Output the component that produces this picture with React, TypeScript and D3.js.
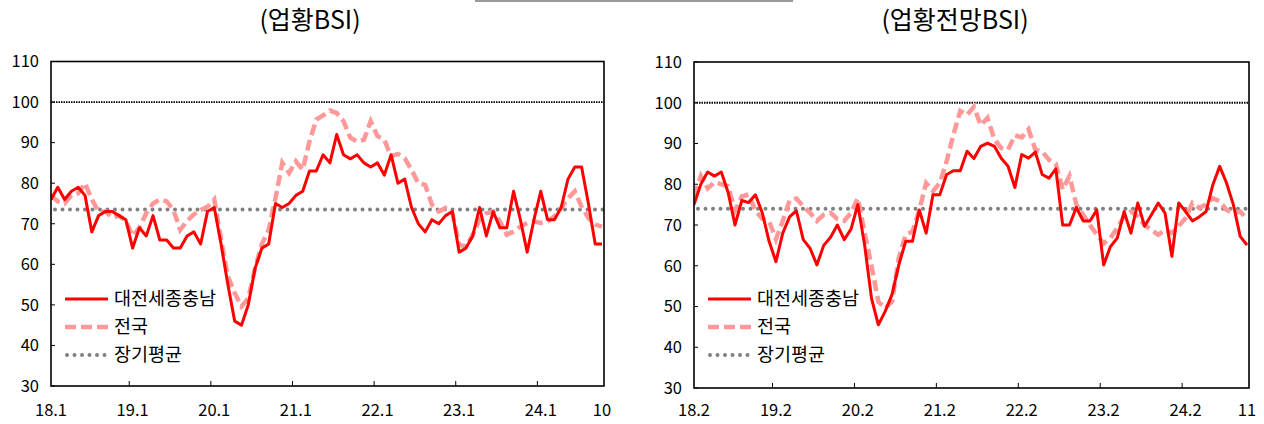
import React from "react";
import * as d3 from "d3";

// month keys like "18.1" ... built from a start month and a count
const monthsFrom = (year: number, month: number, count: number) => {
  const out: string[] = [];
  let y = year;
  let m = month;
  for (let k = 0; k < count; k++) {
    out.push(`${y % 100}.${m}`);
    m += 1;
    if (m > 12) {
      m = 1;
      y += 1;
    }
  }
  return out;
};

// 업황BSI : 18.1 ~ 24.10
const bsiMonths = monthsFrom(2018, 1, 82);
const bsiTicks = ["18.1", "19.1", "20.1", "21.1", "22.1", "23.1", "24.1", "24.10"];
const bsiTickText = ["18.1", "19.1", "20.1", "21.1", "22.1", "23.1", "24.1", "10"];
const bsiLocal = [
  76, 79, 76, 78, 79, 77, 68, 72, 73, 73, 72, 71,
  64, 69, 67, 72, 66, 66, 64, 64, 67, 68, 65, 73,
  74, 65, 55, 46, 45, 50, 59, 64, 65, 75, 74, 75,
  77, 78, 83, 83, 87, 85, 92, 87, 86, 87, 85, 84,
  85, 82, 87, 80, 81, 74, 70, 68, 71, 70, 72, 73,
  63, 64, 67, 74, 67, 73, 69, 69, 78, 71, 63, 71,
  78, 71, 71, 74, 81, 84, 84, 75, 65, 65,
];
const bsiNation = [
  77, 75.5, 75, 77, 77.5, 80, 76, 73, 73, 71.5, 72, 70.7,
  67, 69, 72.6, 75, 76, 75.5, 73.4, 68.5, 70.7, 72.3, 73.4, 74.2,
  76, 66, 57, 53, 49.6, 51.6, 59, 65, 68.5, 76.3, 85, 82.5,
  85.4, 83.3, 90.3, 95.7, 96.7, 97.9, 97.3, 95.3, 91.2, 90.3, 90.7, 95.3,
  91.6, 90.7, 86.6, 87.2, 86.1, 83.3, 80, 79.6, 74.7, 73, 73.9, 72.6,
  64.8, 64.4, 67.3, 71, 72.6, 73, 70.6, 67.3, 68.1, 69.3, 70.2, 70.6,
  70.2, 70.6, 71.8, 73.9, 76.3, 78, 74.2, 71.4, 69.8, 69.3,
];
const bsiAvg = 73.5;

// 업황전망BSI : 18.2 ~ 24.11
const outMonths = monthsFrom(2018, 2, 82);
const outTicks = ["18.2", "19.2", "20.2", "21.2", "22.2", "23.2", "24.2", "24.11"];
const outTickText = ["18.2", "19.2", "20.2", "21.2", "22.2", "23.2", "24.2", "11"];
const outLocal = [
  75, 80, 83, 82, 83, 78, 70, 76, 75.5, 77.4, 73, 66,
  61, 68, 72, 73.5, 66.4, 64.3, 60.2, 65, 67, 70, 66.4, 69,
  75, 65, 52, 45.5, 48.8, 52.9, 60.2, 66, 66, 73.7, 68, 77.4,
  77.4, 82.4, 83.3, 83.3, 88.1, 86.3, 89.3, 90.1, 89.3, 86.4, 84.4, 79.2,
  87.3, 86.4, 87.9, 82.4, 81.5, 83.8, 70, 70, 74.3, 71, 71, 73.7,
  60.2, 64.7, 66.8, 73.3, 68, 75.4, 69.7, 72.5, 75.4, 72.9, 62.3, 75.4,
  73.3, 71, 72, 73.3, 79.9, 84.4, 80.3, 75, 67.2, 65.1,
];
const outNation = [
  77, 82, 79, 80.5, 80, 79.5, 73.5, 77, 77.5, 73.5, 71.5, 71,
  66.5, 71, 76, 76.5, 74.6, 73, 71, 72.5, 73, 71.5, 71, 73,
  76.6, 68, 60, 51.2, 49.6, 51.2, 61.9, 67.6, 68.4, 73.7, 80.3, 78.3,
  80.3, 85.6, 92.2, 98, 97, 99, 94.5, 96.3, 91, 88.9, 88.5, 92,
  91.5, 93.5, 88.5, 88, 86, 85, 78.7, 82, 75, 72.5, 70, 67.6,
  65.5, 66.8, 69.3, 72.1, 73.3, 72.1, 70, 68.8, 67.6, 68.8, 68, 69.7,
  71.7, 75.4, 74.2, 75, 76.6, 75.8, 73.7, 72.9, 73.3, 71.5,
];
const outAvg = 74;

const yTicks = [30, 40, 50, 60, 70, 80, 90, 100, 110];
const legendNames = ["대전세종충남", "전국", "장기평균"];

const FONT = "'Noto Sans CJK KR', 'Noto Sans', sans-serif";
const RED = "#ff0000";
const PINK = "#ff9999";
const GREY = "#808080";

type Frame = { left: number; right: number; top: number; bottom: number; titleX: number };

type PanelProps = {
  id: string;
  title: string;
  cats: string[];
  ticks: string[];
  tickText: string[];
  local: number[];
  nation: number[];
  avg: number;
  frame: Frame;
};

const Panel = (props: PanelProps) => {
  const { id, title, cats, ticks, tickText, local, nation, avg, frame } = props;

  const x = d3.scalePoint<string>().domain(cats).range([frame.left, frame.right - 2]);
  const y = d3.scaleLinear().domain([30, 110]).range([frame.bottom, frame.top]);
  const step = x.step();

  const line = d3
    .line<number>()
    .x((_d, i) => x(cats[i]) as number)
    .y((d) => y(d));

  const lx = frame.left + 14;
  const legendY = [299, 327, 355];

  return (
    <g>
      <defs>
        <clipPath id={`clip-${id}`}>
          <rect
            x={frame.left}
            y={frame.top}
            width={frame.right - frame.left}
            height={frame.bottom - frame.top}
          />
        </clipPath>
      </defs>

      <text x={frame.titleX} y={29} textAnchor="middle" fontSize={25} fill="#000">
        {title}
      </text>

      {/* y axis labels + inner ticks */}
      {yTicks.map((t) => (
        <g key={t}>
          <text
            x={frame.left - 12}
            y={y(t)}
            dy="0.35em"
            textAnchor="end"
            fontSize={16.5}
            fill="#000"
          >
            {t}
          </text>
          <line x1={frame.left} x2={frame.left + 4} y1={y(t)} y2={y(t)} stroke="#000" strokeWidth={1} />
        </g>
      ))}

      {/* x axis labels */}
      {ticks.map((t, k) => (
        <text key={t} x={x(t)} y={416} textAnchor="middle" fontSize={16.5} fill="#000">
          {tickText[k]}
        </text>
      ))}
      {/* x ticks sit between categories */}
      {ticks.slice(1, -1).map((t) => {
        const tx = (x(t) as number) - step / 2;
        return (
          <line key={t} x1={tx} x2={tx} y1={frame.bottom} y2={frame.bottom - 5} stroke="#000" strokeWidth={1} />
        );
      })}

      <g clipPath={`url(#clip-${id})`}>
        <line
          x1={frame.left}
          x2={frame.right}
          y1={y(100)}
          y2={y(100)}
          stroke="#000"
          strokeWidth={1.8}
          strokeDasharray="1.5 1"
        />
        <line
          x1={frame.left + 4}
          x2={frame.right}
          y1={y(avg)}
          y2={y(avg)}
          stroke={GREY}
          strokeWidth={4}
          strokeLinecap="round"
          strokeDasharray="0 7.5"
        />
        <path d={line(nation) || ""} fill="none" stroke={PINK} strokeWidth={4.5} strokeDasharray="11 5" />
        <path d={line(local) || ""} fill="none" stroke={RED} strokeWidth={3} strokeLinejoin="round" />
      </g>

      <rect
        x={frame.left}
        y={frame.top}
        width={frame.right - frame.left}
        height={frame.bottom - frame.top}
        fill="none"
        stroke="#000"
        strokeWidth={1.6}
      />

      {/* legend */}
      <g>
        <line x1={lx} x2={lx + 43} y1={legendY[0]} y2={legendY[0]} stroke={RED} strokeWidth={3} />
        <line
          x1={lx}
          x2={lx + 43}
          y1={legendY[1]}
          y2={legendY[1]}
          stroke={PINK}
          strokeWidth={4.5}
          strokeDasharray="11 5"
        />
        <line
          x1={lx + 2}
          x2={lx + 43}
          y1={legendY[2]}
          y2={legendY[2]}
          stroke={GREY}
          strokeWidth={4}
          strokeLinecap="round"
          strokeDasharray="0 7.5"
        />
        {legendNames.map((n, k) => (
          <text key={n} x={lx + 49} y={legendY[k]} dy="0.35em" fontSize={18.5} fill="#000">
            {n}
          </text>
        ))}
      </g>
    </g>
  );
};

const App = () => {
  return (
    <svg
      width={1264}
      height={424}
      style={{ display: "block", position: "absolute", left: 0, top: 0, fontFamily: FONT }}
    >
      <rect x={0} y={0} width={1264} height={424} fill="#fff" />
      <line x1={475} x2={793} y1={1} y2={1} stroke="#999" strokeWidth={2} />
      <Panel
        id="bsi"
        title="(업황BSI)"
        cats={bsiMonths}
        ticks={bsiTicks}
        tickText={bsiTickText}
        local={bsiLocal}
        nation={bsiNation}
        avg={bsiAvg}
        frame={{ left: 51, right: 604, top: 61.5, bottom: 386, titleX: 310 }}
      />
      <Panel
        id="out"
        title="(업황전망BSI)"
        cats={outMonths}
        ticks={outTicks}
        tickText={outTickText}
        local={outLocal}
        nation={outNation}
        avg={outAvg}
        frame={{ left: 694, right: 1249, top: 62, bottom: 388, titleX: 955 }}
      />
    </svg>
  );
};

export default App;
